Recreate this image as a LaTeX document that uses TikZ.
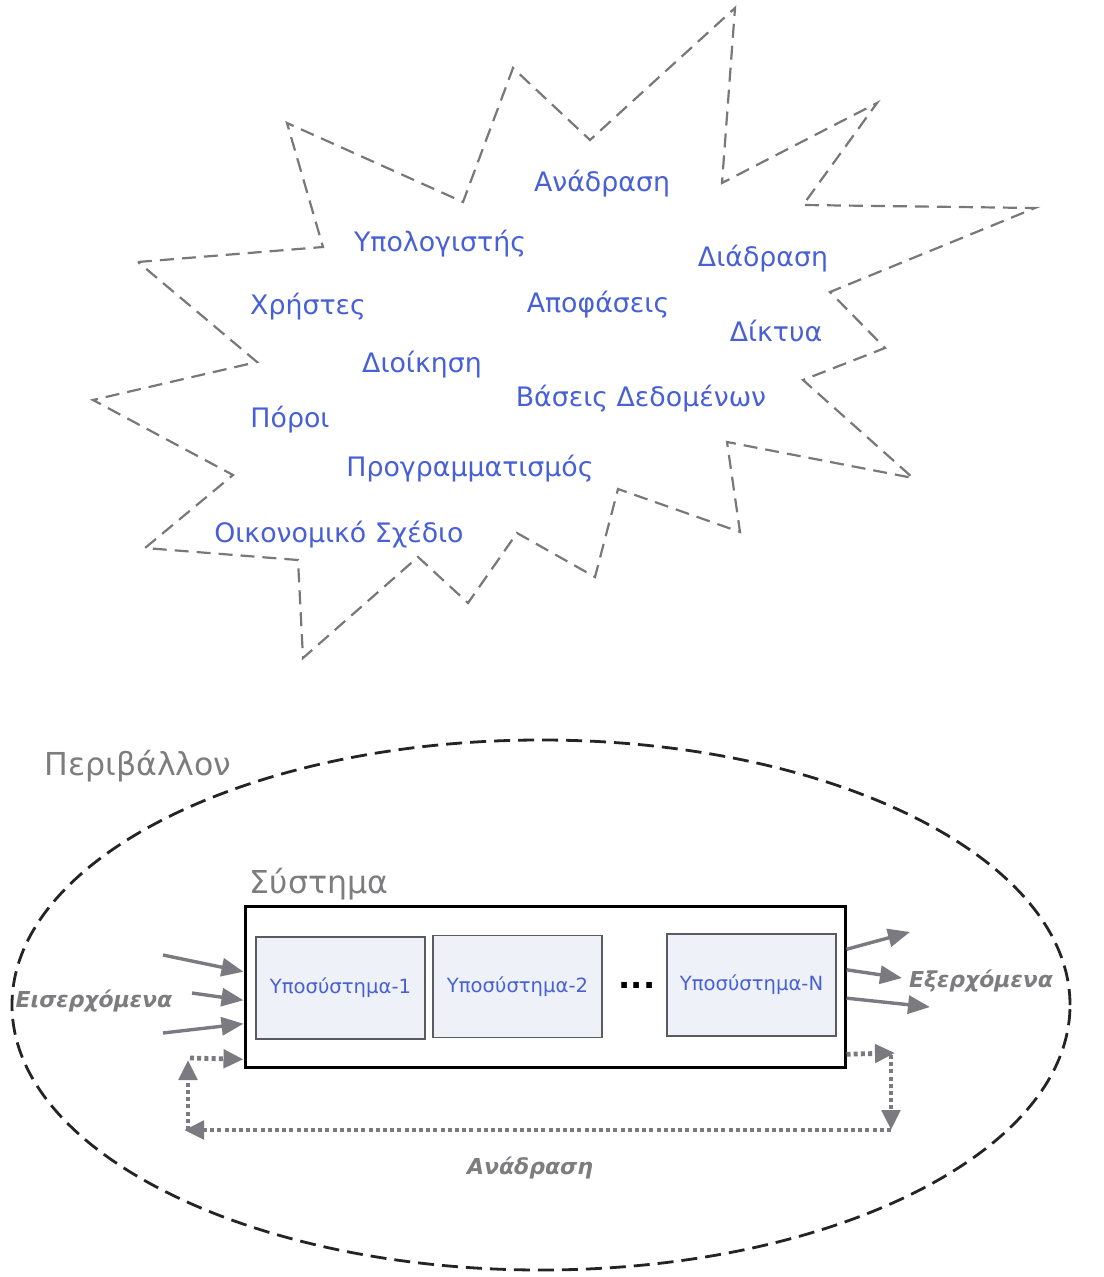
\documentclass[tikz,border=0pt]{standalone}
\usepackage{fontspec}
\setmainfont{DejaVu Sans}
\usetikzlibrary{arrows.meta,calc}
\definecolor{wordblue}{RGB}{72,96,214}
\definecolor{burstgray}{RGB}{120,120,120}
\definecolor{labelgray}{RGB}{125,125,128}
\definecolor{arrowgray}{RGB}{122,122,128}
\definecolor{subfill}{RGB}{238,241,247}
\definecolor{subedge}{RGB}{90,90,95}
\definecolor{ringcol}{RGB}{35,35,40}
\begin{document}
\begin{tikzpicture}[x=0.5pt,y=-0.5pt,
  word/.style={text=wordblue, font=\fontsize{13.4}{16}\selectfont, anchor=base, inner sep=0pt},
  burst/.style={draw=burstgray, line width=1.1pt, dash pattern=on 7pt off 4pt, line join=miter},
  title/.style={text=labelgray, font=\fontsize{15.8}{19}\selectfont, anchor=base, inner sep=0pt},
  flowlabel/.style={text=labelgray, font=\fontsize{11}{13}\selectfont\bfseries\itshape, anchor=base, inner sep=0pt},
  sysbox/.style={draw=black, line width=1.5pt, fill=white, minimum width=300pt, minimum height=80.5pt, inner sep=0pt},
  subbox/.style={draw=subedge, line width=0.8pt, fill=subfill, minimum width=84.5pt, minimum height=51pt, inner sep=0pt,
                 text=wordblue, font=\fontsize{9.8}{12}\selectfont},
  flow/.style={draw=arrowgray, line width=1.7pt, -{Triangle[length=11pt,width=9pt]}},
  feedback/.style={draw=arrowgray, line width=2.4pt, dash pattern=on 2pt off 1.6pt, -{Triangle[length=10pt,width=9pt]}},
  ring/.style={draw=ringcol, line width=1.4pt, dash pattern=on 8pt off 4pt}
]
\useasboundingbox (0,0) rectangle (1103,1277);

% ---------- the cloud of concepts ----------
\draw[burst] (138,262) -- (323,247) -- (287,123) -- (463,202) -- (513,68) -- (590,140)
  -- (735,8) -- (722,183) -- (877,103) -- (803,205) -- (1035,208) -- (830,292)
  -- (885,348) -- (803,380) -- (913,478) -- (727,442) -- (740,532) -- (618,489)
  -- (595,577) -- (517,533) -- (468,603) -- (418,557) -- (303,658) -- (298,560)
  -- (145,548) -- (233,475) -- (93,400) -- (257,362) -- cycle;

\node[word] (w1)  at (602,192) {Ανάδραση};
\node[word] (w2)  at (440,252) {Υπολογιστής};
\node[word] (w3)  at (763,267) {Διάδραση};
\node[word] (w4)  at (308,315) {Χρήστες};
\node[word] (w5)  at (598,313) {Αποφάσεις};
\node[word] (w6)  at (776,342) {Δίκτυα};
\node[word] (w7)  at (422,373) {Διοίκηση};
\node[word] (w8)  at (641,407) {Βάσεις Δεδομένων};
\node[word] (w9)  at (290,428) {Πόροι};
\node[word] (w10) at (470,477) {Προγραμματισμός};
\node[word] (w11) at (339,542) {Οικονομικό Σχέδιο};

% ---------- the system in its environment ----------
\draw[ring] (541,1005) ellipse [x radius=264.5pt, y radius=132.5pt];
\node[title] (env) at (138,775) {Περιβάλλον};
\node[title] (systitle) at (319,893) {Σύστημα};

\node[sysbox] (sys) at (545,986.5) {};
\node[subbox] (s1) at (340.5,988) {Υποσύστημα-1};
\node[subbox] (s2) at (517.5,986.5) {Υποσύστημα-2};
\node[subbox] (sn) at (751.5,985) {Υποσύστημα-N};
\node[font=\fontsize{16}{18}\selectfont\bfseries, inner sep=0pt] (dots) at (637,985) {...};

% inputs
\coordinate (in1) at (163,955);
\coordinate (in2) at (192,993);
\coordinate (in3) at (163,1033);
\draw[flow] (in1) -- ($(sys.north west)!0.41!(sys.south west)$);
\draw[flow] (in2) -- ($(sys.north west)!0.584!(sys.south west)$);
\draw[flow] (in3) -- ($(sys.north west)!0.727!(sys.south west)$);
\node[flowlabel] (inlabel) at (94,1007) {Εισερχόμενα};

% outputs
\coordinate (out1) at (910,932);
\coordinate (out2) at (902,978);
\coordinate (out3) at (930,1007);
\draw[flow] ($(sys.north east)!0.273!(sys.south east)$) -- (out1);
\draw[flow] ($(sys.north east)!0.398!(sys.south east)$) -- (out2);
\draw[flow] ($(sys.north east)!0.571!(sys.south east)$) -- (out3);
\node[flowlabel] (outlabel) at (981,987) {Εξερχόμενα};

% feedback loop
\coordinate (fbRt) at (895,1053);
\coordinate (fbRb) at (891,1130);
\coordinate (fbLb) at (184,1130);
\coordinate (fbLt) at (188,1060);
\draw[feedback] ($(sys.north east)!0.913!(sys.south east)$) -- (fbRt);
\draw[feedback] (891,1055) -- (fbRb);
\draw[feedback] (fbRb) -- (fbLb);
\draw[feedback] (188,1130) -- (fbLt);
\draw[feedback] (190,1058) -- ($(sys.north west)!0.944!(sys.south west)$);
\node[flowlabel] (fblabel) at (530,1174) {Ανάδραση};

\end{tikzpicture}
\end{document}
